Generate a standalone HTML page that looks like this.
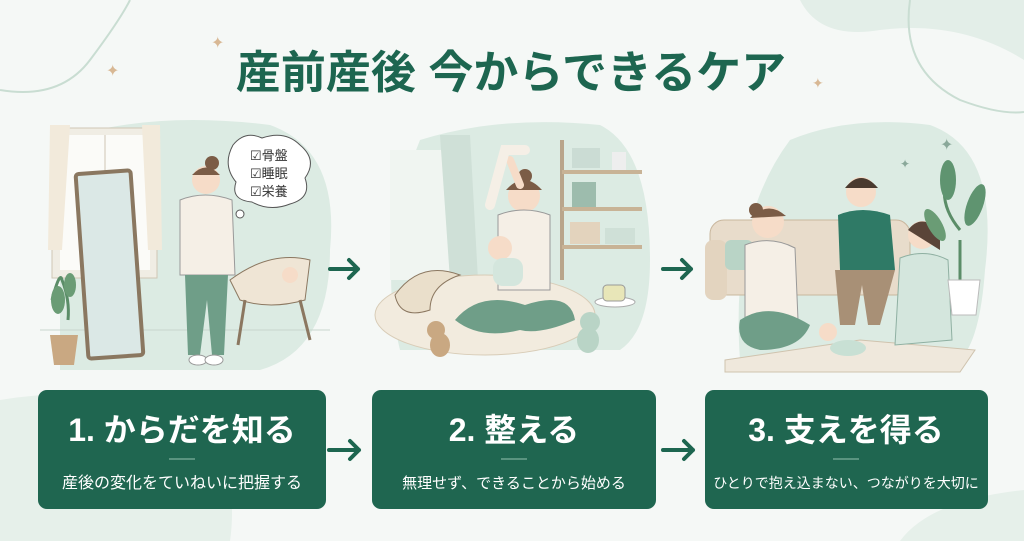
<!DOCTYPE html>
<html><head><meta charset="utf-8"><style>
html,body{margin:0;padding:0;width:1024px;height:541px;overflow:hidden;background:#f5f8f6;}
.t{font-family:"Liberation Sans","Noto Sans CJK JP",sans-serif;}
</style></head><body>
<svg width="1024" height="541" viewBox="0 0 1024 541" xmlns="http://www.w3.org/2000/svg">
<rect width="1024" height="541" fill="#f5f8f6"/>
<!-- corner decorations -->
<path d="M0 90 Q60 100 90 60 Q120 20 130 0" fill="none" stroke="#c9ddd2" stroke-width="2"/>
<path d="M800 0 Q820 40 880 30 Q960 20 1024 60 L1024 0Z" fill="#e3eee8"/>
<path d="M910 0 Q900 70 960 100 Q1000 115 1024 112" fill="none" stroke="#c9ddd2" stroke-width="2"/>
<path d="M0 400 Q120 380 200 430 Q240 470 230 541 L0 541Z" fill="#e6f0ea"/>
<path d="M900 541 Q930 500 1024 490 L1024 541Z" fill="#e6f0ea"/>
<text x="211" y="48" font-size="16" fill="#d8b894">✦</text>
<text x="106" y="76" font-size="16" fill="#d8b894">✦</text>
<text x="812" y="88" font-size="14" fill="#d8b894">✦</text>
<!-- title -->
<text class="t" x="511" y="88" text-anchor="middle" font-size="45" font-weight="bold" fill="#1d6650">産前産後 今からできるケア</text>

<!-- scene 1 -->
<path d="M60 140 Q150 110 270 125 Q340 150 330 250 Q330 350 260 370 L60 370Z" fill="#dcebe3"/>
<rect x="52" y="128" width="105" height="150" fill="#f0ede4" stroke="#cfc6b5"/>
<rect x="60" y="135" width="90" height="135" fill="#fbfbf8"/>
<line x1="105" y1="135" x2="105" y2="270" stroke="#cfc6b5"/>
<path d="M50 125 L70 125 L62 250 L48 250Z" fill="#f2eadb"/>
<path d="M142 125 L160 125 L162 250 L148 250Z" fill="#f2eadb"/>
<line x1="40" y1="330" x2="330" y2="330" stroke="#c9d6ce"/>
<rect x="82" y="172" width="55" height="185" rx="3" fill="#dbe8e6" stroke="#8a7760" stroke-width="4" transform="rotate(-4 110 265)"/>
<path d="M52 300 Q60 270 62 280 Q70 300 68 320" fill="none" stroke="#5b8d68" stroke-width="3"/>
<ellipse cx="58" cy="300" rx="7" ry="14" fill="#6a9c75"/>
<ellipse cx="70" cy="285" rx="6" ry="12" fill="#6a9c75"/>
<path d="M50 335 L78 335 L74 365 L54 365Z" fill="#c9a882"/>
<circle cx="206" cy="180" r="14" fill="#f6dcc8"/><circle cx="212" cy="163" r="7" fill="#7b5c46"/>
<path d="M192 175 Q206 160 220 175" fill="#7b5c46"/>
<path d="M180 200 Q205 190 232 200 L235 275 L180 275Z" fill="#f5efe6" stroke="#999" stroke-width="1"/>
<path d="M185 275 L228 275 L224 355 L212 355 L207 300 L200 355 L188 355Z" fill="#6f9e88"/>
<ellipse cx="198" cy="360" rx="9" ry="5" fill="#fff" stroke="#999"/><ellipse cx="214" cy="360" rx="9" ry="5" fill="#fff" stroke="#999"/>
<path d="M230 280 Q270 250 310 260 L305 300 Q270 310 240 300Z" fill="#efe5d5" stroke="#8b7760"/>
<line x1="245" y1="300" x2="238" y2="345" stroke="#8b7760" stroke-width="3"/><line x1="300" y1="300" x2="310" y2="340" stroke="#8b7760" stroke-width="3"/>
<circle cx="290" cy="275" r="8" fill="#f6dcc8"/>
<path d="M233 145 Q245 130 262 138 Q285 130 300 145 Q318 160 305 178 Q312 198 290 204 Q270 212 252 202 Q230 200 236 182 Q222 165 233 145Z" fill="#fff" stroke="#555"/>
<circle cx="240" cy="214" r="4" fill="#fff" stroke="#555"/>
<text class="t" x="250" y="160" font-size="13" fill="#333">☑骨盤</text>
<text class="t" x="250" y="178" font-size="13" fill="#333">☑睡眠</text>
<text class="t" x="250" y="196" font-size="13" fill="#333">☑栄養</text>

<!-- scene 2 -->
<path d="M420 140 Q500 115 600 125 Q650 150 650 260 Q650 330 620 350 L400 350 Q375 250 420 140Z" fill="#dcebe3"/>
<rect x="390" y="150" width="80" height="130" fill="#f0f5f1"/>
<path d="M440 135 L470 135 L478 280 L450 280Z" fill="#cfe0d7"/>
<rect x="560" y="140" width="4" height="140" fill="#b9a58b"/>
<rect x="562" y="170" width="80" height="4" fill="#c8b396"/><rect x="562" y="207" width="80" height="4" fill="#c8b396"/><rect x="562" y="245" width="80" height="4" fill="#c8b396"/>
<rect x="572" y="148" width="28" height="20" fill="#cbdcd4"/><rect x="612" y="152" width="14" height="18" fill="#eee"/>
<rect x="572" y="182" width="24" height="25" fill="#9dbcad"/><rect x="570" y="222" width="30" height="22" fill="#e3d3bd"/><rect x="605" y="228" width="30" height="16" fill="#cfe0d7"/>
<ellipse cx="485" cy="315" rx="110" ry="40" fill="#f2ebde" stroke="#d8ccb7"/>
<path d="M395 295 Q420 260 460 275 Q430 285 430 310 Q400 320 395 295Z" fill="#eadfcb" stroke="#8b7760"/>
<circle cx="524" cy="196" r="16" fill="#f6dcc8"/><circle cx="525" cy="176" r="7" fill="#7b5c46"/>
<path d="M506 190 Q524 170 542 190" fill="#7b5c46"/>
<path d="M510 160 L520 185" stroke="#f6dcc8" stroke-width="8" stroke-linecap="round"/>
<path d="M490 205 L505 150 L525 150" stroke="#f5efe6" stroke-width="10" fill="none" stroke-linecap="round"/>
<path d="M498 215 Q524 205 550 215 L550 290 L498 290Z" fill="#f5efe6" stroke="#999"/>
<circle cx="500" cy="248" r="12" fill="#f6dcc8"/><rect x="493" y="258" width="30" height="28" rx="10" fill="#d4e6dd"/>
<path d="M455 320 Q480 290 525 305 Q570 290 575 320 Q540 335 520 330 Q480 340 455 320Z" fill="#6f9e88"/>
<circle cx="436" cy="330" r="9" fill="#c9a882"/><ellipse cx="440" cy="345" rx="10" ry="12" fill="#c9a882"/>
<circle cx="590" cy="322" r="10" fill="#b9d4c6"/><ellipse cx="588" cy="340" rx="11" ry="13" fill="#b9d4c6"/>
<ellipse cx="615" cy="302" rx="20" ry="5" fill="#fff" stroke="#aaa"/><rect x="603" y="285" width="22" height="16" rx="4" fill="#e8e6b8" stroke="#999"/>

<!-- scene 3 -->
<path d="M790 140 Q850 115 930 125 Q1000 150 985 270 Q980 340 960 360 L740 360 Q730 220 790 140Z" fill="#dcebe3"/>
<path d="M725 360 L860 340 L975 350 L960 372 L725 372Z" fill="#efe8dc" stroke="#cfc3ae"/>
<rect x="710" y="220" width="200" height="75" rx="14" fill="#e8dccb" stroke="#c9b79e"/>
<rect x="705" y="240" width="22" height="60" rx="8" fill="#e3d4bf"/>
<rect x="725" y="240" width="28" height="30" rx="6" fill="#b9d4c6"/>
<circle cx="768" cy="222" r="16" fill="#f6dcc8"/><circle cx="756" cy="210" r="7" fill="#7b5c46"/>
<path d="M750 218 Q768 200 786 216" fill="#7b5c46"/>
<path d="M745 245 Q770 235 795 248 L798 320 L745 320Z" fill="#f5efe6" stroke="#999"/>
<path d="M740 320 Q770 300 810 325 Q800 350 760 350 Q735 345 740 320Z" fill="#6f9e88"/>
<circle cx="861" cy="192" r="15" fill="#f6dcc8"/><path d="M845 188 Q861 168 878 188" fill="#4a3a2f"/>
<path d="M838 215 Q862 205 890 215 L895 270 L840 270Z" fill="#2f7a66"/>
<path d="M835 270 L895 270 L880 325 L868 325 L862 285 L855 325 L840 325Z" fill="#a89076"/>
<circle cx="922" cy="235" r="14" fill="#f6dcc8"/><path d="M908 230 Q922 212 940 232 L940 250" fill="#5a4438"/>
<path d="M900 258 Q925 248 948 260 L952 340 L895 345Z" fill="#d4e6dd" stroke="#8fb0a2"/>
<circle cx="828" cy="332" r="9" fill="#f6dcc8"/><ellipse cx="848" cy="348" rx="18" ry="8" fill="#c8e0d4"/>
<path d="M950 170 Q935 200 960 230 M960 240 L960 285" stroke="#5b8d68" stroke-width="3" fill="none"/>
<ellipse cx="948" cy="180" rx="8" ry="20" fill="#5f9470"/><ellipse cx="975" cy="205" rx="8" ry="22" fill="#5f9470" transform="rotate(20 975 205)"/><ellipse cx="935" cy="225" rx="7" ry="18" fill="#6a9c75" transform="rotate(-30 935 225)"/>
<path d="M948 280 L980 280 L976 315 L952 315Z" fill="#fff" stroke="#bbb"/>
<text x="900" y="168" font-size="12" fill="#8aa89a">✦</text><text x="940" y="150" font-size="16" fill="#8aa89a">✦</text>

<!-- arrows -->
<g stroke="#1d6650" stroke-width="4" fill="none" stroke-linecap="round" stroke-linejoin="round">
<path d="M330 269 L358 269 M349 260 L358 269 L349 278"/>
<path d="M663 269 L691 269 M682 260 L691 269 L682 278"/>
<path d="M329 450 L359 450 M350 441 L359 450 L350 459"/>
<path d="M663 450 L693 450 M684 441 L693 450 L684 459"/>
</g>

<!-- boxes -->
<rect x="38" y="390" width="288" height="119" rx="9" fill="#1f6650"/>
<rect x="372" y="390" width="284" height="119" rx="9" fill="#1f6650"/>
<rect x="705" y="390" width="283" height="119" rx="9" fill="#1f6650"/>
<g class="t" fill="#fff" text-anchor="middle">
<text x="182" y="441" font-size="32" font-weight="bold">1. からだを知る</text>
<text x="514" y="441" font-size="32" font-weight="bold">2. 整える</text>
<text x="846" y="441" font-size="32" font-weight="bold">3. 支えを得る</text>
<text x="182" y="488" font-size="16">産後の変化をていねいに把握する</text>
<text x="514" y="488" font-size="15">無理せず、できることから始める</text>
<text x="846" y="488" font-size="14">ひとりで抱え込まない、つながりを大切に</text>
</g>
<g stroke="#6fa48f" stroke-width="1.5">
<line x1="169" y1="459" x2="195" y2="459"/><line x1="501" y1="459" x2="527" y2="459"/><line x1="833" y1="459" x2="859" y2="459"/>
</g>
</svg>
</body></html>
